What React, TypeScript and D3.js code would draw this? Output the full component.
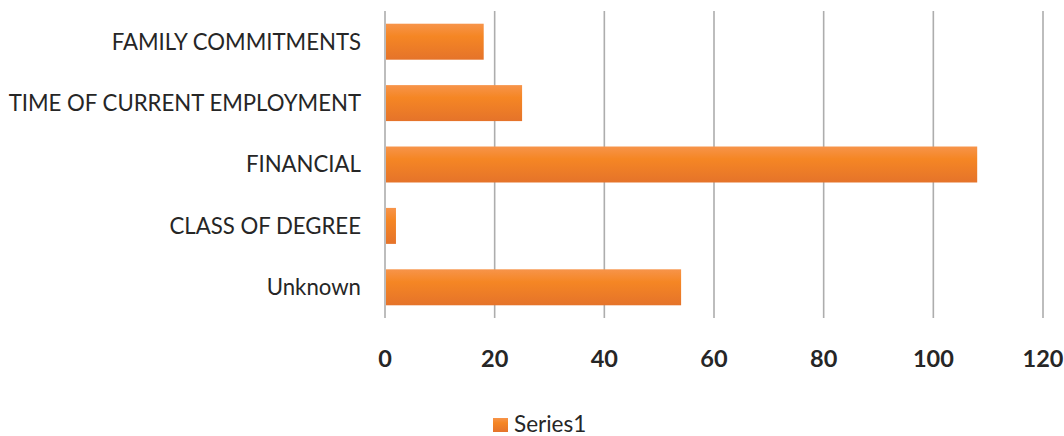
import React from "react";
import * as d3 from "d3";

const categories = ["FAMILY COMMITMENTS", "TIME OF CURRENT EMPLOYMENT", "FINANCIAL", "CLASS OF DEGREE", "Unknown"];
const series1 = [18, 25, 108, 2, 54];
const xTicks = [0, 20, 40, 60, 80, 100, 120];
const seriesName = "Series1";

const W = 1064;
const H = 436;
const FONT = "Lato, 'Open Sans', sans-serif";

export default function App() {
  const x = d3.scaleLinear().domain([0, 120]).range([385, 1043]);
  const y = d3.scaleBand<string>().domain(categories).range([11, 318]).paddingInner(0.414).paddingOuter(0.207);
  return (
    <svg width={W} height={H} style={{ position: "absolute", left: 0, top: 0 }}>
      <defs>
        <linearGradient id="barGrad" x1="0" y1="0" x2="0" y2="1">
          <stop offset="0" stopColor="#F7944A" />
          <stop offset="0.35" stopColor="#F58624" />
          <stop offset="1" stopColor="#E5732A" />
        </linearGradient>
      </defs>
      <rect width={W} height={H} fill="#fff" />
      {xTicks.map((t) => (
        <line key={t} x1={x(t)} x2={x(t)} y1={11} y2={318} stroke="#ADADAD" strokeWidth={1.6} />
      ))}
      {categories.map((c, i) => (
        <rect key={c} x={x(0) + 1} y={y(c)} width={x(series1[i]) - x(0) - 1} height={y.bandwidth()} fill="url(#barGrad)" />
      ))}
      {categories.map((c) => (
        <text key={c} x={361} y={(y(c) as number) + y.bandwidth() / 2} dy="0.36em" textAnchor="end" fontFamily={FONT} fontSize={22.2} fill="#262626">
          {c}
        </text>
      ))}
      {xTicks.map((t) => (
        <text key={t} x={x(t)} y={367} textAnchor="middle" fontFamily={FONT} fontWeight="bold" fontSize={23.5} fill="#262626">
          {t}
        </text>
      ))}
      <rect x={493} y={418} width={15} height={14} fill="url(#barGrad)" />
      <text x={514} y={432} fontFamily={FONT} fontSize={22.5} fill="#262626">
        {seriesName}
      </text>
    </svg>
  );
}
